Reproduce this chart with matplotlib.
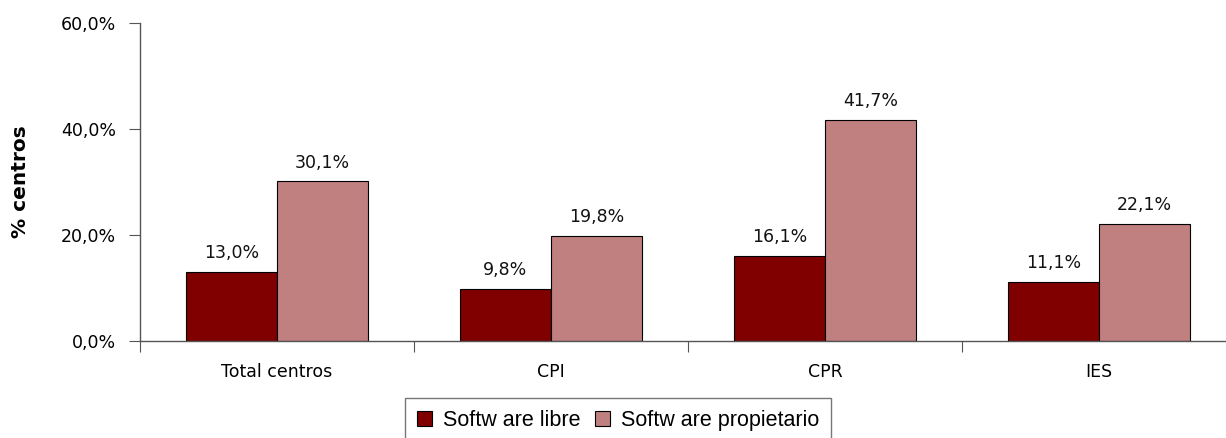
import matplotlib
matplotlib.use("Agg")
import matplotlib.pyplot as plt
import numpy as np

categories = ["Total centros", "CPI", "CPR", "IES"]
libre = [13.0, 9.8, 16.1, 11.1]
propietario = [30.1, 19.8, 41.7, 22.1]
series_names = ["Softw are libre", "Softw are propietario"]
yticks = [0, 20, 40, 60]

c_libre = "#800000"
c_prop = "#C08080"

fig = plt.figure(figsize=(12.26, 4.38), dpi=100)
W, H = 1226, 438
ax = fig.add_axes([140 / W, 1 - 341 / H, (4 * 274) / W, (341 - 23) / H])

x = np.arange(len(categories)) + 0.5
bw = 0.333
b1 = ax.bar(x - bw / 2, libre, bw, color=c_libre, edgecolor="black", linewidth=0.8, label=series_names[0])
b2 = ax.bar(x + bw / 2, propietario, bw, color=c_prop, edgecolor="black", linewidth=0.8, label=series_names[1])

fmt = lambda v: f"{v:.1f}%".replace(".", ",")
for bars, vals in ((b1, libre), (b2, propietario)):
    for r, v in zip(bars, vals):
        ax.annotate(fmt(v), (r.get_x() + r.get_width() / 2, v), xytext=(0, 7),
                    textcoords="offset points", ha="center", va="bottom", fontsize=12.5, color="#111111")

ax.set_xlim(0, 4)
ax.set_ylim(0, 60)
ax.set_yticks(yticks)
ax.set_yticklabels([fmt(v) for v in yticks], fontsize=12.5)
ax.set_xticks(np.arange(0, 5))
ax.set_xticklabels([])
ax.set_xticks(x, minor=True)
ax.set_xticklabels(categories, minor=True, fontsize=12.5)
ax.tick_params(axis="x", which="minor", length=0, pad=16)
ax.tick_params(axis="x", which="major", length=8, direction="out", color="#555555")
ax.tick_params(axis="y", length=8, direction="out", color="#555555", pad=9.5)

for s in ("top", "right"):
    ax.spines[s].set_visible(False)
for s in ("left", "bottom"):
    ax.spines[s].set_color("#555555")
    ax.spines[s].set_linewidth(1.0)

ax.set_ylabel("% centros", fontsize=14.5, fontweight="bold", labelpad=22)

leg = fig.legend(loc="upper left", bbox_to_anchor=(405 / W, 1 - 398 / H), ncol=2, frameon=True,
                 fancybox=False, edgecolor="#555555", prop={"family": "Liberation Sans", "size": 15.5},
                 handlelength=0.7, handleheight=0.7, handletextpad=0.5, columnspacing=0.7,
                 borderpad=0.55, borderaxespad=0)
leg.get_frame().set_linewidth(1.0)

fig.savefig("out.png", dpi=100)
